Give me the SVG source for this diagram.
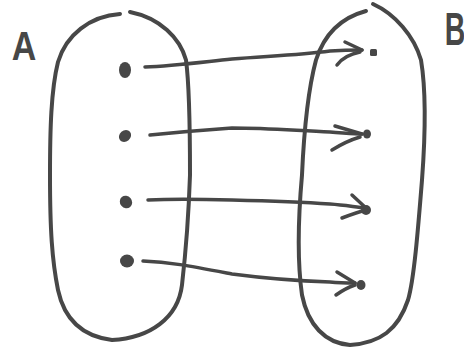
<svg xmlns="http://www.w3.org/2000/svg" width="464" height="349" viewBox="0 0 464 349">
<style>
.ink{fill:none;stroke:#474747;stroke-width:4;stroke-linecap:round;stroke-linejoin:round}
.arr{fill:none;stroke:#474747;stroke-width:3.5;stroke-linecap:round;stroke-linejoin:round}
.dot{fill:#474747}
.lbl{font-family:"Liberation Sans",Arial,sans-serif;font-weight:bold;fill:#474747}
</style>
<rect width="464" height="349" fill="#ffffff"/>
<g id="setA">
<path class="ink" d="M130,12 C160,18 180,38 186,60 C190,90 190,140 190,175 C189,205 186,250 182,285 C178,318 150,338 112,340 C80,336 64,318 58,290 C52,260 50,230 50,175 C50,130 51,90 58,62 C66,35 90,16 120,14"/>
<text class="lbl" x="24" y="60" font-size="40" text-anchor="middle" transform="translate(24 0) scale(0.85 1) translate(-24 0)">A</text>
</g>
<g id="setB">
<path class="ink" d="M373,4 C395,14 414,36 421,60 C426,90 425,140 422,180 C418,230 414,280 408,300 C398,330 380,343 350,345 C325,343 308,325 302,295 C297,260 298,220 302,175 C304,130 308,90 316,60 C324,35 340,18 366,11"/>
<text class="lbl" x="455" y="45" font-size="46" text-anchor="middle" transform="translate(455 0) scale(0.62 1) translate(-455 0)">B</text>
</g>
<g id="a1"><ellipse class="dot" cx="125" cy="70" rx="6" ry="8"/></g>
<g id="a2"><ellipse class="dot" cx="125" cy="136" rx="6.5" ry="5.5" transform="rotate(-40 125 136)"/></g>
<g id="a3"><ellipse class="dot" cx="126" cy="202" rx="6" ry="6.5" transform="rotate(-40 126 202)"/></g>
<g id="a4"><ellipse class="dot" cx="127" cy="261" rx="7" ry="6.5"/></g>
<g id="b1"><rect class="dot" x="370" y="49" width="7" height="7" rx="1.5"/></g>
<g id="b2"><ellipse class="dot" cx="367" cy="134" rx="4" ry="4.5"/></g>
<g id="b3"><ellipse class="dot" cx="366" cy="210" rx="5" ry="5"/></g>
<g id="b4"><ellipse class="dot" cx="361" cy="285" rx="4.5" ry="5"/></g>
<g id="connectors">
<path class="arr" d="M145,67 C170,66 185,64 232,59 C270,56 300,55 330,51 C345,50 355,50 362,50"/>
<path class="arr" d="M345,42 L362,50"/>
<path class="arr" d="M337,65 C342,58 350,54 360,52"/>
<path class="arr" d="M150,135 C170,133 190,131 232,128 C270,128 300,131 330,132 C345,133 355,134 362,134"/>
<path class="arr" d="M335,126 L362,134"/>
<path class="arr" d="M332,150 C340,145 350,140 360,137"/>
<path class="arr" d="M148,200 C170,199 190,199 232,200 C270,201 300,202 330,204 C345,205 355,207 366,208"/>
<path class="arr" d="M352,195 L366,208"/>
<path class="arr" d="M342,218 C350,215 358,212 366,210"/>
<path class="arr" d="M143,261 C170,262 190,266 232,274 C270,279 300,281 330,282 C340,283 348,283 355,283"/>
<path class="arr" d="M337,272 L355,283"/>
<path class="arr" d="M336,295 C343,290 349,287 355,285"/>
</g>
</svg>
